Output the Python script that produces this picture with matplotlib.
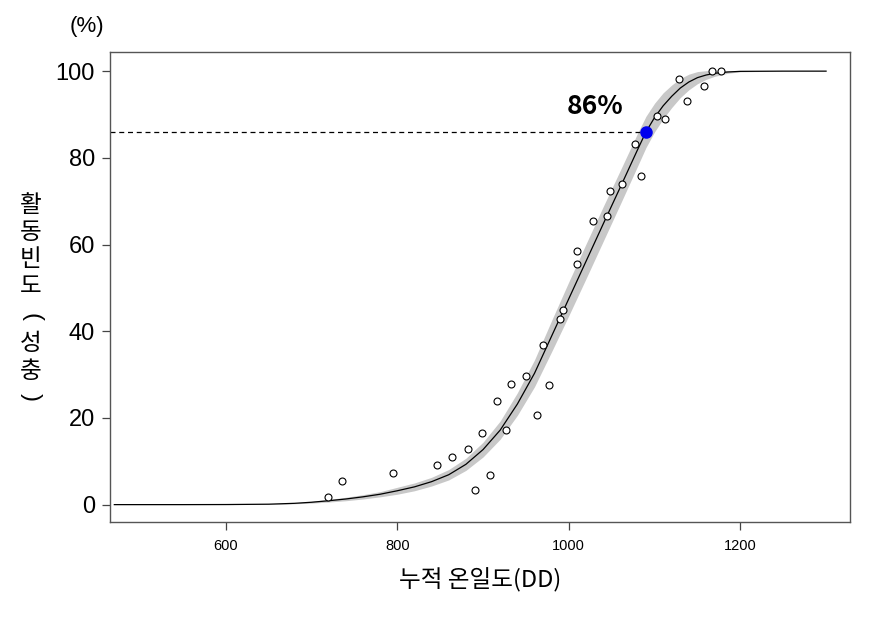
import matplotlib
matplotlib.use('Agg')
import matplotlib.pyplot as plt

# 관측 자료 (누적 온일도, 누적 발생 비율 %)
obs_dd = [719, 735, 795, 846, 864, 882, 891, 899, 908, 916, 927, 933, 950, 963,
          970, 977, 990, 993, 1010, 1010, 1028, 1045, 1048, 1062, 1077, 1084,
          1103, 1112, 1129, 1138, 1158, 1167, 1178]
obs_pct = [1.8, 5.5, 7.4, 9.1, 11.0, 12.9, 3.4, 16.5, 6.8, 24.0, 17.2, 27.8, 29.6, 20.7,
           36.9, 27.6, 42.8, 44.9, 55.6, 58.5, 65.5, 66.6, 72.4, 74.0, 83.3, 75.8,
           89.6, 88.9, 98.3, 93.2, 96.6, 100.0, 100.0]

# 추정 곡선
curve_dd = [470, 550, 600, 650, 680, 700, 720, 740, 760, 780, 800, 820, 840, 860,
            880, 900, 920, 940, 960, 980, 1000, 1020, 1040, 1060, 1080, 1090, 1100,
            1110, 1120, 1130, 1140, 1150, 1160, 1170, 1185, 1200, 1250, 1300]
curve_pct = [0.0, 0.0, 0.02, 0.1, 0.3, 0.55, 0.9, 1.3, 1.8, 2.4, 3.2, 4.1, 5.3, 6.9,
             9.3, 12.7, 17.2, 23.2, 30.3, 38.9, 47.5, 56.1, 64.7, 73.2, 81.8, 86.0, 89.3,
             92.0, 94.2, 96.1, 97.5, 98.5, 99.1, 99.5, 99.8, 99.95, 100.0, 100.0]
# 신뢰구간 반폭 (%)
band_half = [0.0, 0.0, 0.0, 0.05, 0.1, 0.2, 0.3, 0.4, 0.5, 0.6, 0.8, 0.9, 1.0, 1.2,
             1.4, 1.7, 2.1, 2.6, 3.1, 3.6, 3.9, 4.0, 4.0, 3.9, 3.8, 3.6, 3.3,
             3.0, 2.6, 2.2, 1.8, 1.4, 1.0, 0.7, 0.3, 0.1, 0.0, 0.0]

target_dd = 1090
target_pct = 86

band_lo = [c - h for c, h in zip(curve_pct, band_half)]
band_hi = [c + h for c, h in zip(curve_pct, band_half)]

kr = ['Noto Sans CJK KR', 'DejaVu Sans']

fig = plt.figure(figsize=(8.81, 6.35), dpi=100)
ax = fig.add_axes([0.1249, 0.178, 0.840, 0.740])

ax.fill_between(curve_dd, band_lo, band_hi, color='#c8c8c8', lw=0)
ax.plot(curve_dd, curve_pct, color='black', lw=0.9)
ax.plot(obs_dd, obs_pct, 'o', mfc='white', mec='black', ms=5, mew=0.8)

ax.set_xlim(465, 1328)
ax.set_ylim(-4, 104.4)
ax.hlines(target_pct, ax.get_xlim()[0], target_dd, colors='black', lw=0.9,
          linestyles=(0, (4, 3)))
ax.plot([target_dd], [target_pct], 'o', color='#0000ee', ms=8)
ax.text(1031, 91.8, '86%', fontsize=19, fontweight='bold', ha='center', va='center',
        family=kr)

ax.set_xticks([600, 800, 1000, 1200])
ax.set_yticks([0, 20, 40, 60, 80, 100])
for lbl in ax.get_xticklabels():
    lbl.set_fontsize(10.5)
    lbl.set_family('Liberation Sans')
for lbl in ax.get_yticklabels():
    lbl.set_fontsize(17)
    lbl.set_family('Liberation Sans')
ax.tick_params(axis='x', length=6, width=0.9, color='#444444', pad=6)
ax.tick_params(axis='y', length=6, width=0.9, color='#444444', pad=5)
for s in ax.spines.values():
    s.set_color('#555555')
    s.set_linewidth(1.0)

fig.text(0.0988, 0.959, '(%)', fontsize=16, ha='center', va='center',
         family='Liberation Sans')
fig.text(0.545, 0.0866, '누적 온일도(DD)', fontsize=17, ha='center', va='center',
         family=kr)

# 세로 글자 (한 글자씩)
ylab_chars = ['활', '동', '빈', '도', '(', '성', '충', ')']
ylab_y = [206, 233, 260, 287, 317, 344, 371, 397]
for ch, py in zip(ylab_chars, ylab_y):
    if ch in '()':
        fig.text(31 / 881, 1 - py / 635, ch, fontsize=17, ha='center', va='center',
                 rotation=-90, rotation_mode='anchor', family='Liberation Sans')
    else:
        fig.text(31 / 881, 1 - py / 635, ch, fontsize=17, ha='center', va='center',
                 family=kr)

fig.savefig('out.png', dpi=100)
